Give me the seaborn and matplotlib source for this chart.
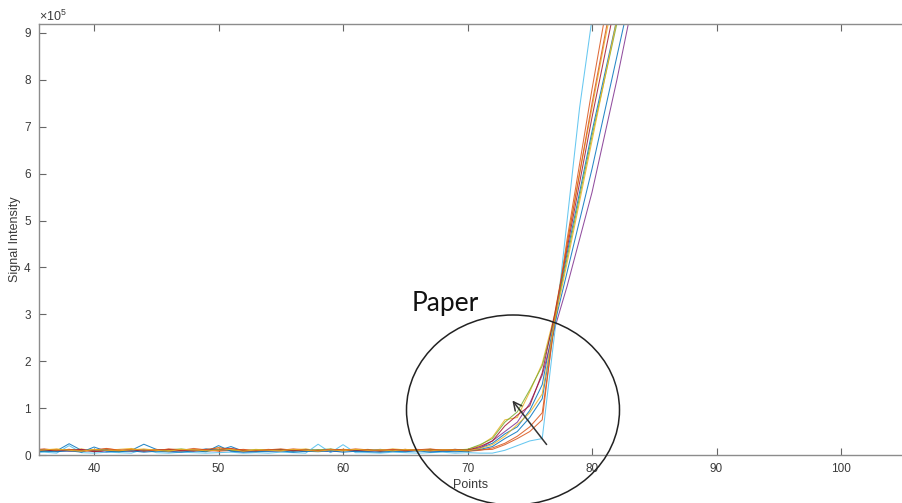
import numpy as np
import pandas as pd
import matplotlib
matplotlib.use("Agg")
import matplotlib.pyplot as plt
import seaborn as sns
from matplotlib.patches import Ellipse

# ---------------- data (signal in units of 1e5) ----------------
points = list(range(35, 85))

s1 = [0.10,0.12,0.09,0.24,0.10,0.08,0.12,0.07,0.10,0.23, 0.12,0.08,0.10,0.09,0.13,0.10,0.18,0.08,0.09,0.11,
      0.10,0.08,0.12,0.10,0.09,0.11,0.08,0.10,0.12,0.09, 0.10,0.11,0.08,0.10,0.12,
      0.10,0.15,0.25,0.45,0.60,0.95,1.50,2.90,4.30,5.60,6.90,8.10,9.30,10.5,11.7]
s2 = [0.08,0.10,0.12,0.09,0.07,0.10,0.13,0.11,0.08,0.10, 0.12,0.09,0.10,0.14,0.11,0.08,0.10,0.12,0.09,0.11,
      0.13,0.10,0.08,0.11,0.09,0.12,0.10,0.08,0.11,0.09, 0.10,0.12,0.09,0.11,0.10,
      0.08,0.10,0.15,0.25,0.40,0.60,0.90,2.80,4.60,6.20,7.80,9.30,10.7,12.0,13.0]
s3 = [0.12,0.09,0.11,0.10,0.13,0.08,0.10,0.12,0.14,0.09, 0.11,0.10,0.08,0.12,0.10,0.16,0.11,0.09,0.12,0.10,
      0.08,0.11,0.13,0.09,0.10,0.12,0.11,0.09,0.10,0.13, 0.11,0.09,0.12,0.10,0.11,
      0.12,0.20,0.38,0.75,0.80,1.35,1.95,3.00,4.50,6.00,7.40,8.80,10.1,11.4,12.7]
s4 = [0.07,0.09,0.10,0.08,0.11,0.09,0.06,0.10,0.08,0.09, 0.10,0.07,0.09,0.11,0.08,0.10,0.09,0.07,0.10,0.08,
      0.09,0.11,0.08,0.10,0.07,0.09,0.10,0.08,0.09,0.11, 0.08,0.10,0.09,0.08,0.10,
      0.10,0.15,0.30,0.50,0.70,1.10,1.70,2.70,3.60,4.60,5.60,6.80,8.00,9.30,10.4]
s5 = [0.11,0.08,0.10,0.12,0.09,0.11,0.10,0.08,0.12,0.10, 0.09,0.11,0.13,0.10,0.08,0.12,0.10,0.09,0.11,0.10,
      0.12,0.09,0.10,0.11,0.13,0.09,0.10,0.12,0.08,0.10, 0.11,0.09,0.12,0.10,0.11,
      0.12,0.22,0.35,0.70,0.92,1.39,1.90,2.90,4.20,5.50,6.80,8.00,9.20,10.4,11.6]
s6 = [0.05,0.06,0.04,0.20,0.05,0.04,0.06,0.05,0.04,0.12, 0.05,0.04,0.06,0.05,0.04,0.05,0.06,0.04,0.05,0.04,
      0.06,0.05,0.04,0.23,0.05,0.22,0.05,0.05,0.04,0.06, 0.05,0.04,0.05,0.06,0.04,
      0.05,0.04,0.04,0.10,0.20,0.30,0.35,2.60,5.00,7.40,9.30,11.2,13.0,14.0,15.0]
s7 = [0.09,0.11,0.08,0.10,0.12,0.07,0.10,0.09,0.11,0.08, 0.10,0.12,0.09,0.08,0.11,0.10,0.14,0.09,0.08,0.10,
      0.11,0.09,0.10,0.08,0.12,0.10,0.09,0.11,0.08,0.10, 0.12,0.09,0.10,0.11,0.09,
      0.10,0.18,0.30,0.62,0.85,1.05,1.75,3.00,4.40,5.80,7.20,8.50,9.80,11.1,12.4]
s8 = [0.06,0.08,0.07,0.09,0.06,0.17,0.08,0.07,0.09,0.06, 0.08,0.07,0.06,0.09,0.07,0.20,0.08,0.06,0.07,0.08,
      0.09,0.06,0.08,0.07,0.09,0.06,0.08,0.07,0.06,0.08, 0.07,0.09,0.06,0.08,0.07,
      0.08,0.12,0.18,0.35,0.50,0.80,1.20,2.80,3.90,5.00,6.10,7.30,8.50,9.70,10.9]
s9 = [0.11,0.13,0.10,0.12,0.09,0.11,0.14,0.10,0.12,0.11, 0.09,0.13,0.11,0.10,0.12,0.15,0.13,0.11,0.09,0.12,
      0.10,0.13,0.11,0.09,0.12,0.10,0.13,0.11,0.10,0.12, 0.09,0.11,0.13,0.10,0.12,
      0.10,0.11,0.12,0.22,0.35,0.50,0.75,2.90,4.50,6.00,7.50,8.90,10.3,11.7,13.0]
s10 = [0.09,0.11,0.13,0.10,0.08,0.12,0.10,0.09,0.11,0.13, 0.10,0.08,0.12,0.11,0.09,0.10,0.12,0.08,0.11,0.10,
       0.09,0.12,0.10,0.08,0.11,0.09,0.12,0.10,0.11,0.09, 0.12,0.10,0.09,0.11,0.10,
       0.09,0.14,0.22,0.40,0.65,0.90,1.30,2.85,4.10,5.40,6.70,8.00,9.30,10.6,11.9]

series_values = [s1, s2, s3, s4, s5, s6, s7, s8, s9, s10]
series_names = [f"s{i+1}" for i in range(len(series_values))]
scale = 1e5

xticks = [40, 50, 60, 70, 80, 90, 100]
yticks = [0, 1, 2, 3, 4, 5, 6, 7, 8, 9]
ytick_labels = ["0", "1", "2", "3", "4", "5", "6", "7", "8", "9"]

colors = ["#0072BD", "#D95319", "#EDB120", "#7E2F8E", "#77AC30",
          "#4DBEEE", "#A2142F", "#0072BD", "#D95319", "#EDB120"]

# ---------------- build table ----------------
rows = []
for name, vals in zip(series_names, series_values):
    for p, v in zip(points, vals):
        rows.append({"Points": p, "Signal": v * scale, "series": name})
df = pd.DataFrame(rows)

# ---------------- figure ----------------
sns.set_theme(style="white")
plt.rcParams["font.family"] = ["Liberation Sans", "DejaVu Sans"]
plt.rcParams["mathtext.fontset"] = "custom"
plt.rcParams["mathtext.rm"] = "Liberation Sans"
plt.rcParams["mathtext.it"] = "Liberation Sans:italic"

W, H = 903, 503
fig = plt.figure(figsize=(W / 100, H / 100), dpi=100)
ax = fig.add_axes([39 / W, 48 / H, 864 / W, 431 / H])

sns.lineplot(data=df, x="Points", y="Signal", hue="series", palette=colors,
             linewidth=0.75, legend=False, ax=ax, estimator=None, sort=False,
             alpha=0.85)

ax.set_xlim(35.58, 104.98)
ax.set_ylim(0, 9.19e5)
ax.set_xticks(xticks)
ax.set_xticklabels([str(t) for t in xticks])
ax.set_yticks([t * scale for t in yticks])
ax.set_yticklabels(ytick_labels)

spine_col = "#8c8c8c"
for side in ["left", "top", "bottom"]:
    ax.spines[side].set_color(spine_col)
    ax.spines[side].set_linewidth(1.0)
ax.spines["right"].set_visible(False)

ax.tick_params(axis="both", direction="in", length=5, width=0.8, color="#666666",
               labelsize=8.5, labelcolor="#3a3a3a", pad=6)
ax.tick_params(axis="x", top=True, bottom=True)
ax.tick_params(axis="y", left=True, right=False)

ax.set_xlabel("Points", fontsize=9, color="#3a3a3a", labelpad=3)
ax.set_ylabel("Signal Intensity", fontsize=9, color="#3a3a3a", labelpad=2)
ax.grid(False)

fig.text(39 / W, 1 - 21 / H, r"$\times\mathregular{10^{5}}$", fontsize=9,
         color="#3a3a3a", va="baseline", ha="left")

# annotations
ell = Ellipse((513 / W, (H - 410) / H), 213 / W, 190 / H, transform=fig.transFigure,
              fill=False, edgecolor="#222222", linewidth=1.1, clip_on=False)
fig.add_artist(ell)

ax.annotate("", xy=(510.7 / W, 1 - 398.3 / H), xytext=(548.3 / W, 1 - 446.7 / H),
            xycoords="figure fraction", textcoords="figure fraction",
            arrowprops=dict(arrowstyle="->,head_length=0.5,head_width=0.25",
                            color="#333333", lw=1.1))

fig.text(412 / W, 1 - 311 / H, "Paper", fontsize=19, family=["Lato", "DejaVu Sans"],
         color="#111111", va="baseline", ha="left")

fig.savefig("out.png", dpi=100)
